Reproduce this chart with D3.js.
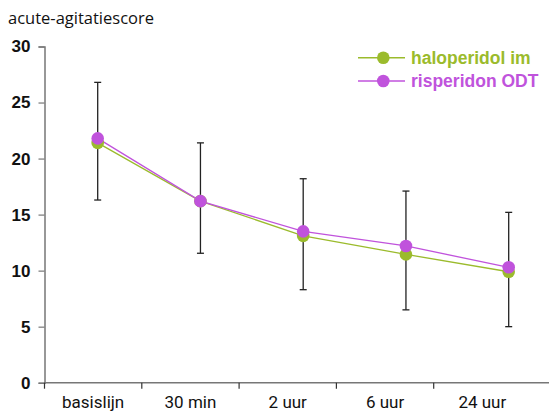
<!DOCTYPE html>
<html>
<head>
<meta charset="utf-8">
<script src="https://cdn.jsdelivr.net/npm/d3@7/dist/d3.min.js"></script>
<style>
  html, body { margin: 0; padding: 0; background: #fff; }
  svg { display: block; }
</style>
</head>
<body>
<svg id="chart" width="549" height="411"></svg>
<script>
// Time points and tick values
const categories = ["basislijn", "30 min", "2 uur", "6 uur", "24 uur"];
const yTicks = [0, 5, 10, 15, 20, 25, 30];

// Mean acute agitation score per group
const haloperidol = [21.4, 16.2, 13.1, 11.45, 9.9];
const risperidon = [21.8, 16.2, 13.5, 12.2, 10.3];

// Error bar range per time point
const errLow = [16.3, 11.55, 8.3, 6.5, 5.0];
const errHigh = [26.8, 21.4, 18.2, 17.1, 15.2];

const seriesNames = ["haloperidol im", "risperidon ODT"];
const colors = ["#9bbb2c", "#c053dc"];

const svg = d3.select("#chart");
const axisColor = "#777";

// Scales
const y = d3.scaleLinear().domain([0, 30]).range([382.7, 46.5]);
const xBand = d3.scaleBand().domain(categories).range([44.5, 531]);
const xPoint = d3.scalePoint().domain(categories).range([97.7, 508.7]);

// Y axis
const yAxis = svg.append("g").attr("transform", "translate(44.5,0)")
  .call(d3.axisLeft(y).tickValues(yTicks).tickSize(6).tickPadding(8));
yAxis.select(".domain").attr("stroke", axisColor).attr("stroke-width", 1.5);
yAxis.selectAll(".tick line").attr("stroke", axisColor).attr("stroke-width", 1.2);
yAxis.selectAll(".tick text")
  .attr("fill", "#111")
  .style("font-family", "'Liberation Sans', Arial, sans-serif")
  .style("font-weight", "bold")
  .style("font-size", "17px");

// X axis (ticks at band boundaries, labels centered in bands)
const xAxisG = svg.append("g").attr("transform", "translate(0,382.7)");
xAxisG.append("line")
  .attr("x1", 44.5).attr("x2", 549)
  .attr("stroke", axisColor).attr("stroke-width", 1.5);
const boundaries = categories.map(c => xBand(c));
xAxisG.selectAll("line.tick").data(boundaries).enter().append("line")
  .attr("class", "tick")
  .attr("x1", d => d).attr("x2", d => d)
  .attr("y1", 0).attr("y2", 6)
  .attr("stroke", "#333").attr("stroke-width", 1.2);
xAxisG.selectAll("text").data(categories).enter().append("text")
  .attr("x", d => xBand(d) + xBand.bandwidth() / 2)
  .attr("y", 25.5)
  .attr("text-anchor", "middle")
  .attr("fill", "#111")
  .style("font-family", "Roboto, 'Open Sans', sans-serif")
  .style("font-size", "17px")
  .text(d => d);

// Y axis title
svg.append("text")
  .attr("x", 8).attr("y", 23.5)
  .attr("fill", "#111")
  .style("font-family", "'Open Sans', 'Liberation Sans', sans-serif")
  .style("font-size", "16.5px")
  .text("acute-agitatiescore");

// Error bars
const eb = svg.append("g");
categories.forEach((c, i) => {
  const x = xPoint(c);
  eb.append("line").attr("x1", x).attr("x2", x)
    .attr("y1", y(errLow[i])).attr("y2", y(errHigh[i]))
    .attr("stroke", "#222").attr("stroke-width", 1.3);
  [errLow[i], errHigh[i]].forEach(v => {
    eb.append("line").attr("x1", x - 3.5).attr("x2", x + 3.5)
      .attr("y1", y(v)).attr("y2", y(v))
      .attr("stroke", "#222").attr("stroke-width", 1.3);
  });
});

// Lines and markers
const line = d3.line().x((d, i) => xPoint(categories[i])).y(d => y(d));
[haloperidol, risperidon].forEach((vals, k) => {
  svg.append("path").datum(vals)
    .attr("d", line)
    .attr("fill", "none")
    .attr("stroke", colors[k])
    .attr("stroke-width", 1.3);
});
[haloperidol, risperidon].forEach((vals, k) => {
  svg.append("g").selectAll("circle").data(vals).enter().append("circle")
    .attr("cx", (d, i) => xPoint(categories[i]))
    .attr("cy", d => y(d))
    .attr("r", 6.3)
    .attr("fill", colors[k]);
});

// Legend
const legend = svg.append("g");
seriesNames.forEach((name, k) => {
  const ly = 57.7 + k * 23.3;
  legend.append("line").attr("x1", 358).attr("x2", 405)
    .attr("y1", ly).attr("y2", ly)
    .attr("stroke", colors[k]).attr("stroke-width", 1.5);
  legend.append("circle").attr("cx", 383.3).attr("cy", ly).attr("r", 6.3)
    .attr("fill", colors[k]);
  legend.append("text").attr("x", 411).attr("y", ly + 6)
    .attr("fill", colors[k])
    .style("font-family", "'Liberation Sans', Arial, sans-serif")
    .style("font-weight", "bold")
    .style("font-size", "17.5px")
    .text(name);
});
</script>
</body>
</html>
